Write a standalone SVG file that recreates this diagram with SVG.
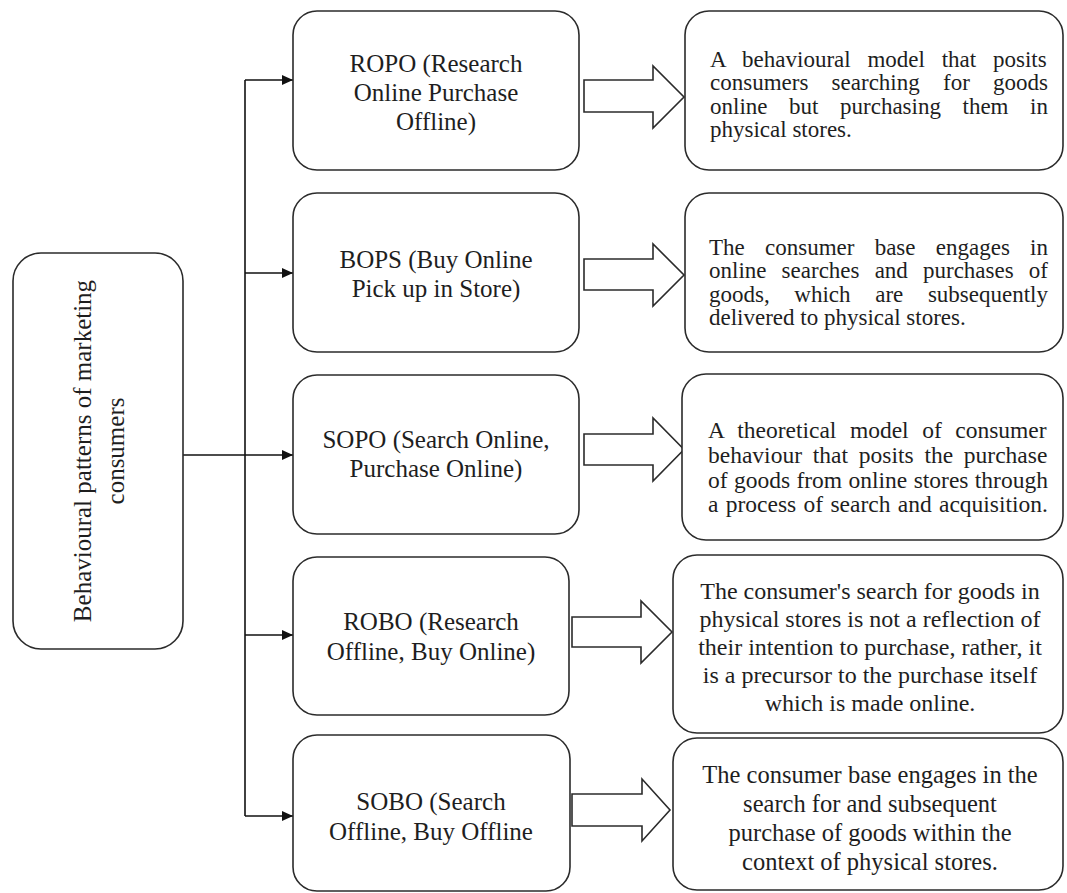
<svg xmlns="http://www.w3.org/2000/svg" width="1067" height="893" viewBox="0 0 1067 893">
<style>
.box{fill:#fff;stroke:#2b2b2b;stroke-width:1.6}
.blk{fill:#fff;stroke:#2b2b2b;stroke-width:1.6;stroke-linejoin:miter}
.con{fill:none;stroke:#111;stroke-width:1.6}
.t{font-family:"Liberation Serif","Times New Roman",serif;fill:#1e1e1e}
.m{font-size:25px;text-anchor:middle}
.j{font-size:23px}
.j3{font-size:23.5px}
.c4{font-size:24px;text-anchor:middle}
.c5{font-size:24.5px;text-anchor:middle}
</style>
<defs>
<marker id="ah" markerUnits="userSpaceOnUse" markerWidth="11" markerHeight="10" refX="11" refY="5" orient="auto">
<path d="M0,0 L11,5 L0,10 z" fill="#111"/>
</marker>
</defs>
<rect width="1067" height="893" fill="#fff"/>

<g id="connectors">
<path class="con" d="M245,80 V816"/>
<path class="con" d="M245,80 H293" marker-end="url(#ah)"/>
<path class="con" d="M245,273 H293" marker-end="url(#ah)"/>
<path class="con" d="M183,455 H293" marker-end="url(#ah)"/>
<path class="con" d="M245,635 H293" marker-end="url(#ah)"/>
<path class="con" d="M245,816 H293" marker-end="url(#ah)"/>
<polygon class="blk" points="584,80 653,80 653,66 684,97 653,128 653,112 584,112"/>
<polygon class="blk" points="584,259 653,259 653,244 684,275 653,306 653,290 584,290"/>
<polygon class="blk" points="584,434 653,434 653,418 684,449.5 653,481 653,465 584,465"/>
<polygon class="blk" points="572,617 641,617 641,601 672,632 641,663 641,647 572,647"/>
<polygon class="blk" points="572,794 642,794 642,779 670,810 642,841 642,826 572,826"/>
</g>

<g id="root">
<rect class="box" x="13" y="253" width="170" height="396" rx="28"/>
<text class="t m" transform="translate(91,451) rotate(-90)">Behavioural patterns of marketing</text>
<text class="t m" transform="translate(124,451) rotate(-90)">consumers</text>
</g>

<g id="ropo">
<rect class="box" x="293" y="11" width="286" height="159" rx="24"/>
<text class="t m" x="436" y="72">ROPO (Research</text>
<text class="t m" x="436" y="101">Online Purchase</text>
<text class="t m" x="436" y="130">Offline)</text>
</g>

<g id="bops">
<rect class="box" x="293" y="193" width="286" height="159" rx="24"/>
<text class="t m" x="436" y="268">BOPS (Buy Online</text>
<text class="t m" x="436" y="297">Pick up in Store)</text>
</g>

<g id="sopo">
<rect class="box" x="293" y="375" width="286" height="159" rx="24"/>
<text class="t m" x="436" y="448">SOPO (Search Online,</text>
<text class="t m" x="436" y="477">Purchase Online)</text>
</g>

<g id="robo">
<rect class="box" x="293" y="557" width="276" height="158" rx="24"/>
<text class="t m" x="431" y="630">ROBO (Research</text>
<text class="t m" x="431" y="660">Offline, Buy Online)</text>
</g>

<g id="sobo">
<rect class="box" x="293" y="735" width="277" height="156" rx="24"/>
<text class="t m" x="431" y="810">SOBO (Search</text>
<text class="t m" x="431" y="840">Offline, Buy Offline</text>
</g>

<g id="desc-ropo">
<rect class="box" x="685" y="11" width="378" height="159" rx="24"/>
<text class="t j" x="710" y="67" word-spacing="11.03">A behavioural model that posits</text>
<text class="t j" x="710" y="90" word-spacing="17.49">consumers searching for goods</text>
<text class="t j" x="710" y="114" word-spacing="15.82">online but purchasing them in</text>
<text class="t j" x="710" y="137">physical stores.</text>
</g>

<g id="desc-bops">
<rect class="box" x="685" y="193" width="378" height="159" rx="24"/>
<text class="t j" x="709" y="255" word-spacing="14.49">The consumer base engages in</text>
<text class="t j" x="709" y="278" word-spacing="9.38">online searches and purchases of</text>
<text class="t j" x="709" y="302" word-spacing="18.88">goods, which are subsequently</text>
<text class="t j" x="709" y="325">delivered to physical stores.</text>
</g>

<g id="desc-sopo">
<rect class="box" x="682" y="374" width="381" height="166" rx="24"/>
<text class="t j3" x="708" y="438" word-spacing="7.65">A theoretical model of consumer</text>
<text class="t j3" x="708" y="463" word-spacing="4.9">behaviour that posits the purchase</text>
<text class="t j3" x="708" y="488" word-spacing="0.5">of goods from online stores through</text>
<text class="t j3" x="708" y="512" word-spacing="1.43">a process of search and acquisition.</text>
</g>

<g id="desc-robo">
<rect class="box" x="673" y="555" width="390" height="178" rx="24"/>
<text class="t c4" x="870" y="599">The consumer's search for goods in</text>
<text class="t c4" x="870" y="627">physical stores is not a reflection of</text>
<text class="t c4" x="870" y="655">their intention to purchase, rather, it</text>
<text class="t c4" x="870" y="683">is a precursor to the purchase itself</text>
<text class="t c4" x="870" y="711">which is made online.</text>
</g>

<g id="desc-sobo">
<rect class="box" x="673" y="738" width="390" height="152" rx="24"/>
<text class="t c5" x="870" y="783">The consumer base engages in the</text>
<text class="t c5" x="870" y="812">search for and subsequent</text>
<text class="t c5" x="870" y="841">purchase of goods within the</text>
<text class="t c5" x="870" y="870">context of physical stores.</text>
</g>
</svg>
